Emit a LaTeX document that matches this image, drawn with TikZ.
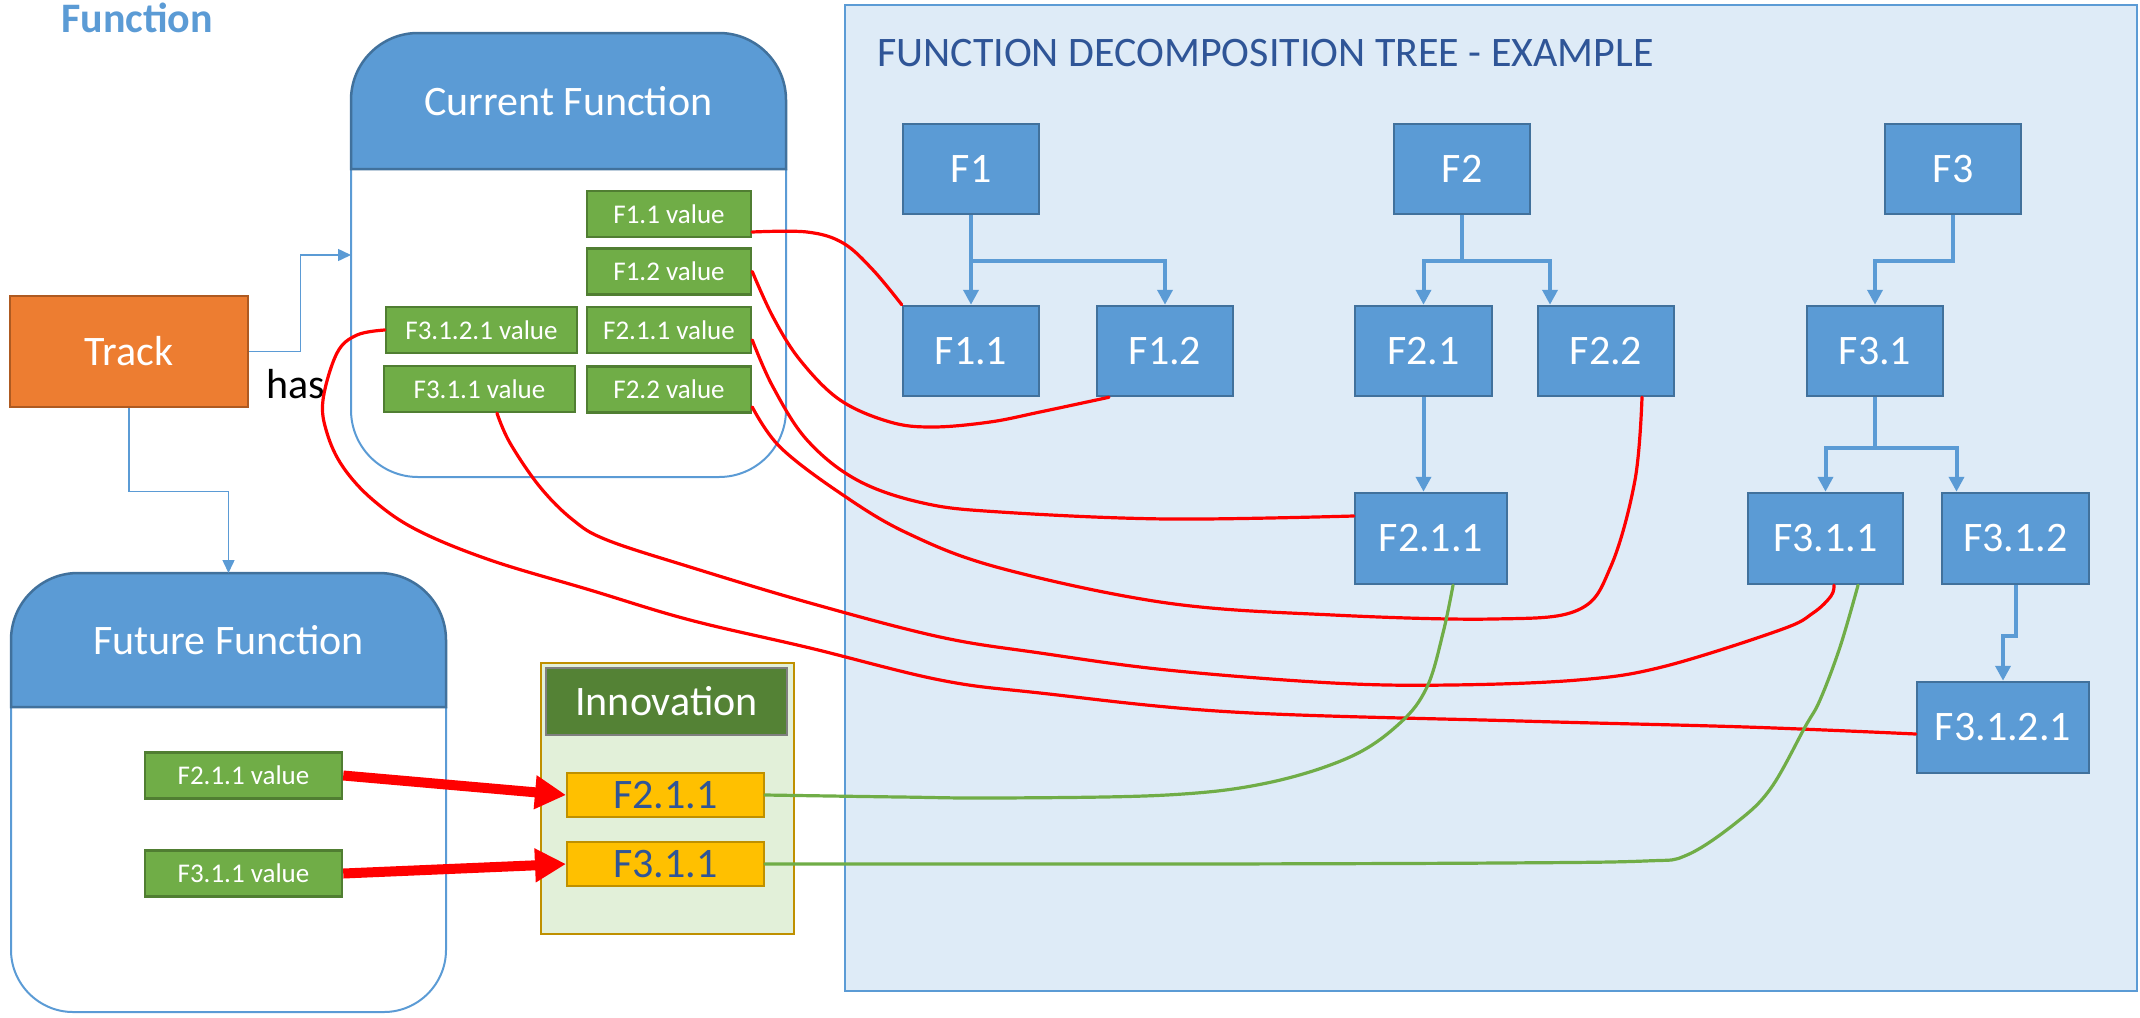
\documentclass[tikz,border=0pt]{standalone}
\usepackage{fontspec}
\setmainfont{Carlito}
\usetikzlibrary{arrows.meta}
\definecolor{blueF}{HTML}{5B9BD5}
\definecolor{blueD}{HTML}{41719C}
\definecolor{greenF}{HTML}{70AD47}
\definecolor{greenD}{HTML}{507E32}
\definecolor{orangeF}{HTML}{ED7D31}
\definecolor{orangeD}{HTML}{AE5A21}
\definecolor{panelF}{HTML}{DEEBF7}
\definecolor{goldF}{HTML}{FFC000}
\definecolor{goldD}{HTML}{BF9000}
\definecolor{innoF}{HTML}{E2F0D9}
\definecolor{innoH}{HTML}{548235}
\definecolor{grayB}{HTML}{7F7F7F}
\definecolor{titleBlue}{HTML}{2F5597}
\definecolor{redC}{HTML}{FF0000}
\begin{document}
\begin{tikzpicture}[x=1pt,y=-1pt,
 bigfont/.style={font=\fontsize{42}{50}\selectfont},
 smallfont/.style={font=\fontsize{27}{32}\selectfont},
 tbox/.style={draw=blueD, line width=2.5pt, fill=blueF, text=white, bigfont, inner sep=0pt, minimum height=90pt},
 gbox/.style={draw=greenD, line width=2.5pt, fill=greenF, text=white, smallfont, inner sep=0pt, minimum height=46pt},
 ybox/.style={draw=goldD, line width=2pt, fill=goldF, text=titleBlue, bigfont, inner sep=0pt, minimum width=197pt, minimum height=44pt},
 tcon/.style={draw=blueF, line width=4pt, -{Triangle[length=15pt,width=15pt]}},
 tconthin/.style={draw=blueF, line width=1.5pt, -{Triangle[length=13pt,width=12pt]}},
 redc/.style={draw=redC, line width=3.2pt, line cap=round},
 greenc/.style={draw=greenF, line width=3.2pt, line cap=round},
 fatarrow/.style={draw=redC, line width=10pt, -{Triangle[length=31pt,width=32pt]}},
 hdr/.style={fill=blueF, draw=blueD, line width=2.5pt},
 bodyline/.style={draw=blueF, line width=2pt}
]
\useasboundingbox (0,0) rectangle (2140,1017);

% title
\node[anchor=base west, inner sep=0pt, text=blueF, font=\fontsize{42}{50}\selectfont\bfseries] (title) at (61,32) {Function};

% tree panel
\node[draw=blueF, fill=panelF, line width=1.5pt, minimum width=1292pt, minimum height=986pt, inner sep=0pt] (panel) at (1491,498) {};
\node[anchor=base west, inner sep=0pt, text=titleBlue, font=\fontsize{42}{50}\selectfont] (ttl) at (877,66) {FUNCTION DECOMPOSITION TREE - EXAMPLE};

% Current Function container
\draw[bodyline] (351,169) -- (351,410) .. controls (351,447) and (381,477) .. (418,477) -- (719,477) .. controls (756,477) and (786,447) .. (786,410) -- (786,169);
\draw[hdr] (351,169) -- (351,100) .. controls (351,63) and (381,33) .. (418,33) -- (719,33) .. controls (756,33) and (786,63) .. (786,100) -- (786,169) -- cycle;
\node[text=white, bigfont] (cftitle) at (568.5,101) {Current Function};
\coordinate (cfin) at (351,255);

% Future Function container
\draw[bodyline] (11,707) -- (11,950) .. controls (11,984) and (39,1012) .. (73,1012) -- (384,1012) .. controls (418,1012) and (446,984) .. (446,950) -- (446,707);
\draw[hdr] (11,707) -- (11,640) .. controls (11,603) and (41,573) .. (78,573) -- (379,573) .. controls (416,573) and (446,603) .. (446,640) -- (446,707) -- cycle;
\node[text=white, bigfont] (fftitle) at (228.5,640) {Future Function};
\coordinate (ffin) at (228.5,573);

% Innovation container
\node[draw=goldD, fill=innoF, line width=2.5pt, minimum width=253pt, minimum height=271pt, inner sep=0pt] (inno) at (667.5,798.5) {};
\node[draw=grayB, line width=2.5pt, fill=innoH, text=white, bigfont, minimum width=241pt, minimum height=67pt, inner sep=0pt] (innoh) at (666.5,701.5) {Innovation};
\node[ybox] (i211) at (665.5,795) {F2.1.1};
\node[ybox] (i311) at (665.5,864) {F3.1.1};

% Track
\node[draw=orangeD, fill=orangeF, line width=2.5pt, text=white, bigfont, minimum width=238pt, minimum height=111pt, inner sep=0pt] (track) at (129,351.5) {Track};
\node[anchor=base west, inner sep=0pt, bigfont] (has) at (266,398) {has};

% value boxes (current)
\node[gbox, minimum width=164pt] (v11) at (669,214) {F1.1 value};
\node[gbox, minimum width=164pt] (v12) at (669,271.5) {F1.2 value};
\node[gbox, minimum width=164pt] (v211) at (669,330) {F2.1.1 value};
\node[gbox, minimum width=164pt] (v22) at (669,389.5) {F2.2 value};
\node[gbox, minimum width=191pt] (v3121) at (481.5,330) {F3.1.2.1 value};
\node[gbox, minimum width=191pt] (v311) at (479.5,389) {F3.1.1 value};

% value boxes (future)
\node[gbox, minimum width=197pt] (fv211) at (243.5,775.5) {F2.1.1 value};
\node[gbox, minimum width=197pt] (fv311) at (243.5,873.5) {F3.1.1 value};

% tree boxes
\node[tbox, minimum width=136pt] (f1) at (971,169) {F1};
\node[tbox, minimum width=136pt] (f2) at (1462,169) {F2};
\node[tbox, minimum width=136pt] (f3) at (1953,169) {F3};
\node[tbox, minimum width=136pt] (f11) at (971,351) {F1.1};
\node[tbox, minimum width=136pt] (f12) at (1165,351) {F1.2};
\node[tbox, minimum width=137pt] (f21) at (1423.5,351) {F2.1};
\node[tbox, minimum width=136pt] (f22) at (1606,351) {F2.2};
\node[tbox, minimum width=136pt] (f31) at (1875,351) {F3.1};
\node[tbox, minimum width=152pt, minimum height=91pt] (f211) at (1431,538.5) {F2.1.1};
\node[tbox, minimum width=155pt, minimum height=91pt] (f311) at (1825.5,538.5) {F3.1.1};
\node[tbox, minimum width=147pt, minimum height=91pt] (f312) at (2015.5,538.5) {F3.1.2};
\node[tbox, minimum width=172pt, minimum height=91pt] (f3121) at (2003,727.5) {F3.1.2.1};

% tree connectors
\draw[tcon] (f1.south) -- (f11.north);
\draw[tcon] (f1.south) -- ++(0,46) -| (f12.north);
\draw[tcon] (f2.south) -- ++(0,46) -| (f21.north);
\draw[tcon] (f2.south) -- ++(0,46) -| ([xshift=-56pt]f22.north);
\draw[tcon] (f3.south) -- ++(0,46) -| (f31.north);
\draw[tcon] (f21.south) -- (f21.south |- f211.north);
\draw[tcon] (f31.south) -- ++(0,51) -| (f311.north);
\draw[tcon] (f31.south) -- ++(0,51) -| ([xshift=-59pt]f312.north);
\draw[tcon] (f312.south) -- ++(0,51) -| (f3121.north);

% track connectors
\draw[tconthin] (track.east) -- ++(51,0) |- (cfin);
\draw[tconthin] (track.south) -- ++(0,83) -| (ffin);

% thick red arrows
\draw[fatarrow] (fv211.east) -- (i211.west);
\draw[fatarrow] (fv311.east) -- (i311.west);

% red curves
\draw[redc] plot[smooth, tension=0.6] coordinates {([yshift=-18pt]v11.east) (807,232) (843,243) (873,270) (f11.north west)};
\draw[redc] plot[smooth, tension=0.6] coordinates {(v12.east) (773,317) (800,360) (840,400) (890,422) (933,427) (990,422) (1040,412) ([xshift=-56pt]f12.south)};
\draw[redc] plot[smooth, tension=0.6] coordinates {([yshift=-10pt]v211.east) (773,387) (807,440) (857,480) (923,503) (1000,512) (1167,519) ([yshift=22.5pt]f211.west)};
\draw[redc] plot[smooth, tension=0.6] coordinates {([yshift=-17.5pt]v22.east) (780,447) (840,493) (907,533) (1000,568) (1167,603) (1333,615) (1493,619) (1578,610) (1611,566) (1635,480) ([xshift=36pt]f22.south)};
\draw[redc] plot[smooth, tension=0.6] coordinates {([xshift=17.5pt]v311.south) (510,443) (540,487) (573,520) (607,540) (690,567) (810,603) (940,637) (1040,653) (1167,670) (1333,683) (1451,685) (1578,680) (1662,667) (1780,630) (1813,613) (1831,596) ([xshift=8.5pt]f311.south)};
\draw[redc] plot[smooth, tension=0.6] coordinates {(v3121.west) (357,335) (337,353) (323,400) (327,433) (343,467) (373,500) (417,530) (490,560) (590,590) (690,620) (810,648) (940,680) (1040,693) (1233,712) (1520,721) (1746,727) ([yshift=-6.5pt]f3121.west)};

% green curves
\draw[greenc] plot[smooth, tension=0.6] coordinates {(i211.east) (900,797) (1000,798) (1167,795) (1267,783) (1350,757) (1400,723) (1427,687) (1443,633) ([xshift=22pt]f211.south)};
\draw[greenc] plot[smooth, tension=0.6] coordinates {(i311.east) (900,864) (1200,864) (1500,863) (1645,861) (1687,855) (1737,822) (1771,788) (1805,727) (1820,700) (1840,647) ([xshift=32.5pt]f311.south)};
\end{tikzpicture}
\end{document}
